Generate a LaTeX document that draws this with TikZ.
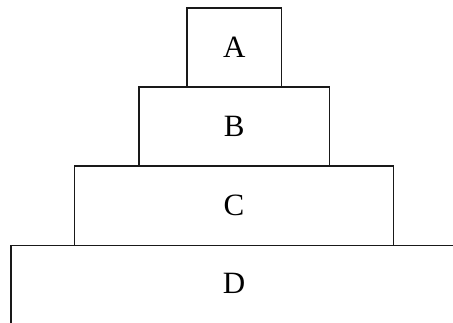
\documentclass[tikz,border=0pt]{standalone}
\usepackage{fontspec}
\setmainfont{Liberation Serif}
\begin{document}
\begin{tikzpicture}[x=1pt,y=1pt,
  blk/.style={draw=black!90, line width=1.1pt, rectangle, inner sep=0pt},
  lbl/.style={inner sep=0pt, font=\fontsize{31}{36}\selectfont}]
\useasboundingbox (0,0) rectangle (453,-323);
\clip (0,0) rectangle (453,-323);
\node[blk, minimum width=450pt, minimum height=81pt] (D) at (236,-286) {};
\node[lbl] (Dl) at (234,-283) {D};
\node[blk, lbl, draw=black!90, minimum width=318.6pt, minimum height=79.5pt] (C) at (234,-205.75) {C};
\node[blk, lbl, draw=black!90, minimum width=190.5pt, minimum height=79pt] (B) at (234.25,-126.5) {B};
\node[blk, lbl, draw=black!90, minimum width=94.5pt, minimum height=79pt] (A) at (234.25,-47.5) {A};
\end{tikzpicture}
\end{document}
